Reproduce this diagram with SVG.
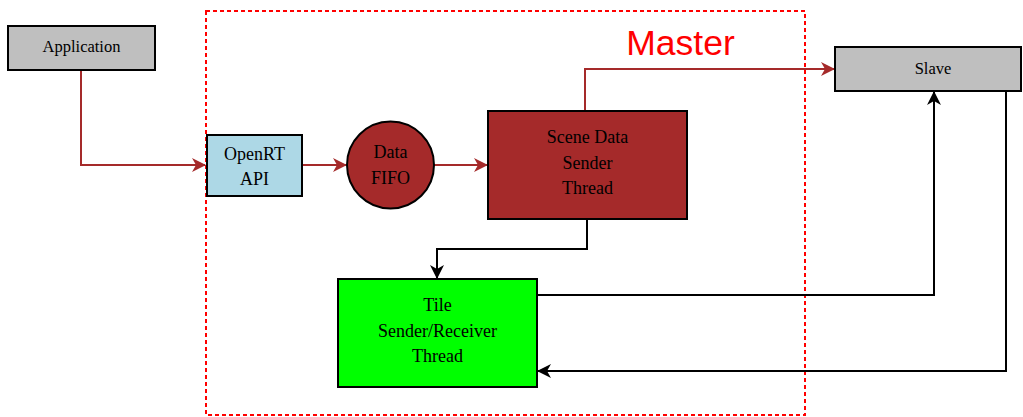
<svg xmlns="http://www.w3.org/2000/svg" width="1023" height="417" viewBox="0 0 1023 417">
<style>
.box{stroke:#000;stroke-width:2}
.t{font-family:"Liberation Serif",serif;font-size:18px;fill:#000;text-anchor:middle}
.ts{font-family:"Liberation Serif",serif;font-size:16.5px;fill:#000;text-anchor:middle}
.cr{fill:none;stroke:#A52A2A;stroke-width:2}
.ck{fill:none;stroke:#000;stroke-width:2}
</style>
<defs>
<marker id="ar" viewBox="0 0 14 14" refX="13" refY="7" markerWidth="14" markerHeight="14" markerUnits="userSpaceOnUse" orient="auto">
<path d="M0,0 L14,7 L0,14 L4,7 Z" fill="#A52A2A"/>
</marker>
<marker id="ak" viewBox="0 0 14 14" refX="13" refY="7" markerWidth="14" markerHeight="14" markerUnits="userSpaceOnUse" orient="auto">
<path d="M0,0 L14,7 L0,14 L4,7 Z" fill="#000"/>
</marker>
</defs>
<rect width="1023" height="417" fill="#fff"/>
<g id="master">
<rect x="206" y="11" width="599" height="404" fill="none" stroke="#FF0000" stroke-width="2" stroke-dasharray="4,3"/>
<text x="680.5" y="55" font-family="Liberation Sans,sans-serif" font-size="35.5" fill="#FF0000" text-anchor="middle">Master</text>
</g>
<g id="connectors">
<path class="cr" d="M81,70 V165 H205" marker-end="url(#ar)"/>
<path class="cr" d="M302,165 H346" marker-end="url(#ar)"/>
<path class="cr" d="M434,165 H487" marker-end="url(#ar)"/>
<path class="cr" d="M585,111 V69 H834" marker-end="url(#ar)"/>
<path class="ck" d="M587,219 V249 H437 V278" marker-end="url(#ak)"/>
<path class="ck" d="M537,295 H934 V92" marker-end="url(#ak)"/>
<path class="ck" d="M1006,91 V371 H538" marker-end="url(#ak)"/>
</g>
<g id="application">
<rect class="box" x="8" y="26" width="147" height="44" fill="#BFBFBF"/>
<text class="ts" x="81.5" y="52">Application</text>
</g>
<g id="slave">
<rect class="box" x="835" y="47" width="186" height="44" fill="#BFBFBF"/>
<text class="ts" x="933" y="74">Slave</text>
</g>
<g id="openrt">
<rect class="box" x="207" y="135" width="95" height="61" fill="#ADD8E6"/>
<text class="t" x="254.5" y="160">OpenRT</text>
<text class="t" x="254.5" y="185">API</text>
</g>
<g id="fifo">
<circle class="box" cx="390.5" cy="165" r="43.5" fill="#A52A2A"/>
<text class="t" x="390.5" y="158">Data</text>
<text class="t" x="390.5" y="184">FIFO</text>
</g>
<g id="scene">
<rect class="box" x="488" y="111" width="199" height="108" fill="#A52A2A"/>
<text class="t" x="587.5" y="143">Scene Data</text>
<text class="t" x="587.5" y="169">Sender</text>
<text class="t" x="587.5" y="194">Thread</text>
</g>
<g id="tile">
<rect class="box" x="338" y="279" width="199" height="108" fill="#00FF00"/>
<text class="t" x="437.5" y="311">Tile</text>
<text class="t" x="437.5" y="337">Sender/Receiver</text>
<text class="t" x="437.5" y="362">Thread</text>
</g>
</svg>
